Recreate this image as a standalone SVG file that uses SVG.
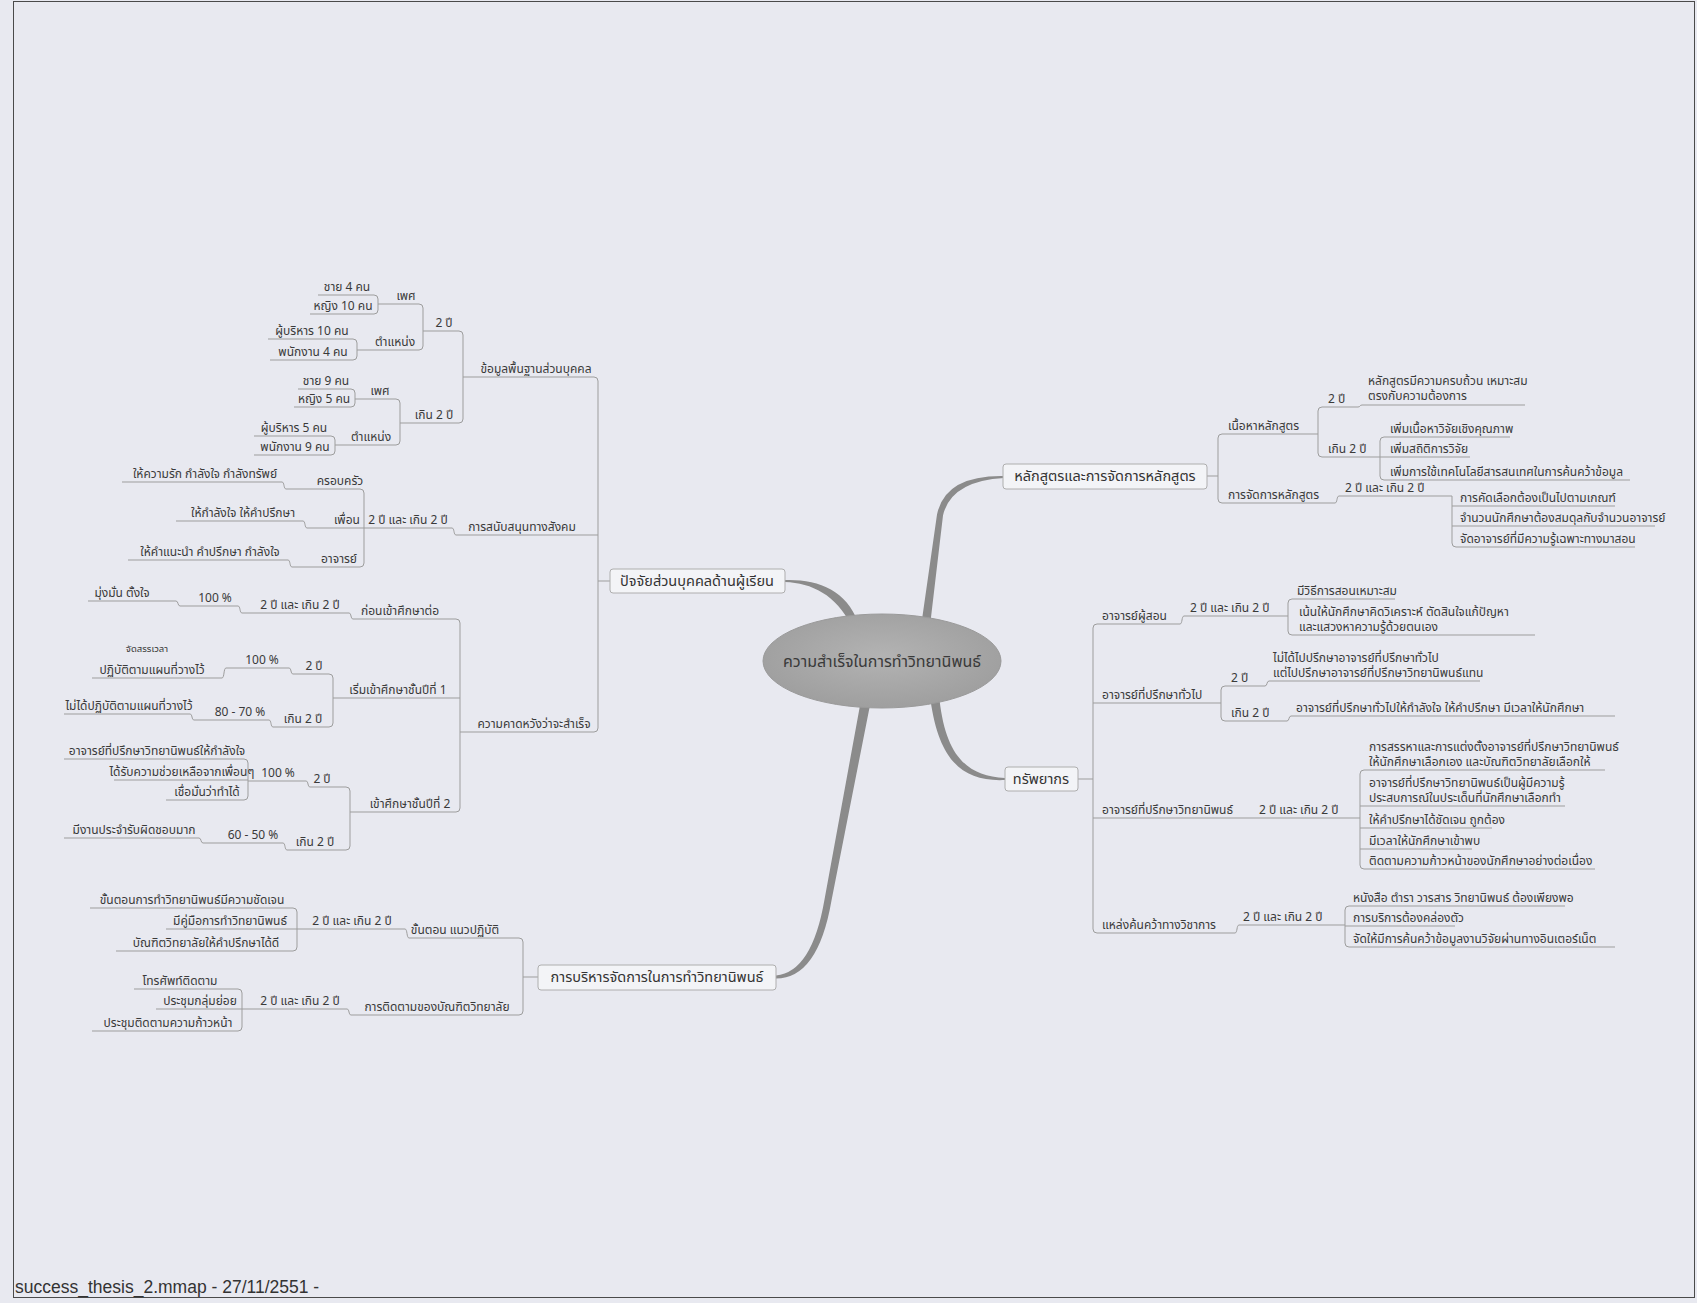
<svg xmlns="http://www.w3.org/2000/svg" width="1697" height="1303" viewBox="0 0 1697 1303">
<style>
.t{font-family:'Noto Sans Thai','Noto Sans Thai UI',Tahoma,Loma,Garuda,'DejaVu Sans','Noto Sans',sans-serif;font-size:12px;fill:#3a3a3a}
.m{text-anchor:middle}
.s{font-size:9.5px}
.mt{font-family:'Noto Sans Thai','Noto Sans Thai UI',Tahoma,Loma,Garuda,'DejaVu Sans','Noto Sans',sans-serif;font-size:14.5px;fill:#333;text-anchor:middle}
.ct{font-family:'Noto Sans Thai','Noto Sans Thai UI',Tahoma,Loma,Garuda,'DejaVu Sans','Noto Sans',sans-serif;font-size:16px;fill:#3a3a3a;text-anchor:middle}
.ul{stroke:#9d9d9d;stroke-width:1;fill:none}
.cn{stroke:#9d9d9d;stroke-width:1;fill:none}
.box{fill:#f3f4f7;stroke:#aeaeae;stroke-width:1}
.br{fill:#8b8b8b;stroke:none}
</style>
<defs>
<radialGradient id="eg" cx="50%" cy="45%" r="60%">
<stop offset="0" stop-color="#b3b3b3"/>
<stop offset="1" stop-color="#9d9d9d"/>
</radialGradient>
</defs>
<rect x="0" y="0" width="1697" height="1303" fill="#e8e9f0"/>
<rect x="13.5" y="1.5" width="1681" height="1296" fill="none" stroke="#4a4a4a" stroke-width="1"/>
<text x="15" y="1293" font-family="'Liberation Sans',Arial,sans-serif" font-size="17.5" fill="#333">success_thesis_2.mmap - 27/11/2551 -</text>

<g id="connectors">
<path class="br" d="M785,580 C818,579 846,590 858,622 L851,625 C836,595 812,583 785,582 Z"/>
<path class="br" d="M920.5,630 L937,514.6 Q945,475 1004,476 L1004,478 Q951,481 943,515.4 L929.5,630 Z"/>
<path class="br" d="M939.5,700 C946,755 966,776 1005,778 L1005,780 C963,782 939,761 930.5,700 Z"/>
<path class="br" d="M871,700 L831.5,900.5 Q818,978.5 776,978.5 L776,975.5 Q812,972 824.5,899.5 L861,700 Z"/>
<path class="cn" d="M374,295 Q378,295 378,299 V310 Q378,314 374,314"/>
<path class="cn" d="M353,339 Q357,339 357,343 V356 Q357,360 353,360"/>
<path class="cn" d="M419,304 Q423,304 423,308 V346 Q423,350 419,350"/>
<path class="cn" d="M351,389 Q355,389 355,393 V403 Q355,407 351,407"/>
<path class="cn" d="M331,436 Q335,436 335,440 V451 Q335,455 331,455"/>
<path class="cn" d="M396,399 Q400,399 400,403 V441 Q400,445 396,445"/>
<path class="cn" d="M459,331 Q463,331 463,335 V419 Q463,423 459,423"/>
<path class="cn" d="M594,377 Q598,377 598,381 V728 Q598,732 594,732 M594,535 H598 M598,581 H610"/>
<path class="cn" d="M282,482 C284.5,482 283.5,489 286,489 M303,521 C305.5,521 304.5,528 307,528 M288,560 C290.5,560 289.5,567 292,567 M452,528 C454.5,528 453.5,535 456,535"/>
<path class="cn" d="M360,489 Q364,489 364,493 V563 Q364,567 360,567 M360,528 H364"/>
<path class="cn" d="M176,601 C178.5,601 177.5,606 180,606 M238,606 C240.5,606 239.5,613 242,613 M349,613 C351.5,613 350.5,619 353,619"/>
<path class="cn" d="M222,678 C224.5,678 223.5,668 226,668 M289,668 C291.5,668 290.5,674 293,674"/>
<path class="cn" d="M190,714 C192.5,714 191.5,720 194,720 M269,720 C271.5,720 270.5,727 273,727"/>
<path class="cn" d="M329,674 Q333,674 333,678 V723 Q333,727 329,727"/>
<path class="cn" d="M244,759 Q248,759 248,763 V796 Q248,800 244,800 M244,780 H248"/>
<path class="cn" d="M306,781 C308.5,781 307.5,787 310,787"/>
<path class="cn" d="M199,838 C201.5,838 200.5,843 203,843 M283,843 C285.5,843 284.5,850 287,850"/>
<path class="cn" d="M346,787 Q350,787 350,791 V846 Q350,850 346,850"/>
<path class="cn" d="M456,619 Q460,619 460,623 V808 Q460,812 456,812 M456,698 H460"/>
<path class="cn" d="M293,908 Q297,908 297,912 V947 Q297,951 293,951 M293,929 H297"/>
<path class="cn" d="M405,929 C407.5,929 406.5,938 409,938"/>
<path class="cn" d="M238,989 Q242,989 242,993 V1027 Q242,1031 238,1031 M238,1009 H242"/>
<path class="cn" d="M347,1009 C349.5,1009 348.5,1015 351,1015"/>
<path class="cn" d="M519,938 Q523,938 523,942 V1011 Q523,1015 519,1015 M523,977 H538"/>
<path class="cn" d="M1207,476 H1218 M1222,434 Q1218,434 1218,438 V499 Q1218,503 1222,503"/>
<path class="cn" d="M1322,407 Q1318,407 1318,411 V453 Q1318,457 1322,457"/>
<path class="cn" d="M1358,407 C1360.5,407 1359.5,405 1362,405"/>
<path class="cn" d="M1384,437 Q1380,437 1380,441 V476 Q1380,480 1384,480 M1380,457 H1384"/>
<path class="cn" d="M1335,503 C1337.5,503 1336.5,496 1339,496"/>
<path class="cn" d="M1452,496 V543 Q1452,547 1456,547 M1452,506 H1456 M1452,526 H1456"/>
<path class="cn" d="M1078,779 H1093 M1097,624 Q1093,624 1093,628 V929 Q1093,933 1097,933 M1093,703 H1097 M1093,818 H1097"/>
<path class="cn" d="M1180,624 C1182.5,624 1181.5,616 1184,616"/>
<path class="cn" d="M1292,599 Q1288,599 1288,603 V631 Q1288,635 1292,635"/>
<path class="cn" d="M1225,686 Q1221,686 1221,690 V717 Q1221,721 1225,721"/>
<path class="cn" d="M1265,686 C1267.5,686 1266.5,681 1269,681 M1287,721 C1289.5,721 1288.5,716 1291,716"/>
<path class="cn" d="M1364,770 Q1360,770 1360,774 V865 Q1360,869 1364,869 M1360,806 H1364 M1360,828 H1364 M1360,849 H1364"/>
<path class="cn" d="M1235,933 C1237.5,933 1236.5,925 1239,925"/>
<path class="cn" d="M1349,906 Q1345,906 1345,910 V943 Q1345,947 1349,947 M1345,926 H1349"/>
</g>

<g id="center">
<ellipse cx="882" cy="661" rx="119" ry="47" fill="url(#eg)" stroke="#9a9a9a"/>
<text class="ct" x="882" y="667">ความสำเร็จในการทำวิทยานิพนธ์</text>
</g>

<g id="topic-a"><rect class="box" x="610" y="569" width="175" height="24" rx="3"/><text class="mt" x="697" y="586">ปัจจัยส่วนบุคคลด้านผู้เรียน</text></g>
<g id="topic-b"><rect class="box" x="1003" y="464" width="204" height="25" rx="3"/><text class="mt" x="1105" y="481">หลักสูตรและการจัดการหลักสูตร</text></g>
<g id="topic-c"><rect class="box" x="1005" y="767" width="73" height="24" rx="3"/><text class="mt" x="1041" y="784">ทรัพยากร</text></g>
<g id="topic-d"><rect class="box" x="538" y="965" width="238" height="25" rx="3"/><text class="mt" x="657" y="982">การบริหารจัดการในการทำวิทยานิพนธ์</text></g>

<g id="n-khomun"><text class="t m" x="536" y="373">ข้อมูลพื้นฐานส่วนบุคคล</text><path class="ul" d="M463,377 H594"/></g>
<g id="n-2pi-a"><text class="t m" x="444" y="327">2 ปี</text><path class="ul" d="M423,331 H459"/></g>
<g id="n-phet1"><text class="t m" x="406" y="300">เพศ</text><path class="ul" d="M378,304 H419"/></g>
<g id="n-chay4"><text class="t m" x="347" y="291">ชาย 4 คน</text><path class="ul" d="M318,295 H374"/></g>
<g id="n-ying10"><text class="t m" x="343" y="310">หญิง 10 คน</text><path class="ul" d="M310,314 H374"/></g>
<g id="n-tam1"><text class="t m" x="395" y="346">ตำแหน่ง</text><path class="ul" d="M357,350 H419"/></g>
<g id="n-bor10"><text class="t m" x="312" y="335">ผู้บริหาร 10 คน</text><path class="ul" d="M268,339 H353"/></g>
<g id="n-pha4"><text class="t m" x="313" y="356">พนักงาน 4 คน</text><path class="ul" d="M270,360 H353"/></g>
<g id="n-koen-a"><text class="t m" x="434" y="419">เกิน 2 ปี</text><path class="ul" d="M400,423 H459"/></g>
<g id="n-phet2"><text class="t m" x="380" y="395">เพศ</text><path class="ul" d="M355,399 H396"/></g>
<g id="n-chay9"><text class="t m" x="326" y="385">ชาย 9 คน</text><path class="ul" d="M298,389 H351"/></g>
<g id="n-ying5"><text class="t m" x="324" y="403">หญิง 5 คน</text><path class="ul" d="M294,407 H351"/></g>
<g id="n-tam2"><text class="t m" x="371" y="441">ตำแหน่ง</text><path class="ul" d="M335,445 H396"/></g>
<g id="n-bor5"><text class="t m" x="294" y="432">ผู้บริหาร 5 คน</text><path class="ul" d="M254,436 H331"/></g>
<g id="n-pha9"><text class="t m" x="295" y="451">พนักงาน 9 คน</text><path class="ul" d="M254,455 H331"/></g>

<g id="n-sanapsanun"><text class="t m" x="522" y="531">การสนับสนุนทางสังคม</text><path class="ul" d="M456,535 H594"/></g>
<g id="n-2pikoen-s"><text class="t m" x="408" y="524">2 ปี และ เกิน 2 ปี</text><path class="ul" d="M364,528 H452"/></g>
<g id="n-krobkrua"><text class="t m" x="340" y="485">ครอบครัว</text><path class="ul" d="M286,489 H360"/></g>
<g id="n-kwamrak"><text class="t m" x="205" y="478">ให้ความรัก กำลังใจ กำลังทรัพย์</text><path class="ul" d="M122,482 H282"/></g>
<g id="n-phuean"><text class="t m" x="347" y="524">เพื่อน</text><path class="ul" d="M307,528 H360"/></g>
<g id="n-kamlangjai"><text class="t m" x="243" y="517">ให้กำลังใจ ให้คำปรึกษา</text><path class="ul" d="M176,521 H303"/></g>
<g id="n-ajarn"><text class="t m" x="339" y="563">อาจารย์</text><path class="ul" d="M292,567 H360"/></g>
<g id="n-kamnaenam"><text class="t m" x="210" y="556">ให้คำแนะนำ คำปรึกษา กำลังใจ</text><path class="ul" d="M128,560 H288"/></g>

<g id="n-kwamkhad"><text class="t m" x="534" y="728">ความคาดหวังว่าจะสำเร็จ</text><path class="ul" d="M460,732 H594"/></g>
<g id="n-korn"><text class="t m" x="400" y="615">ก่อนเข้าศึกษาต่อ</text><path class="ul" d="M353,619 H456"/></g>
<g id="n-2pikoen-a3"><text class="t m" x="300" y="609">2 ปี และ เกิน 2 ปี</text><path class="ul" d="M242,613 H349"/></g>
<g id="n-100a"><text class="t m" x="215" y="602">100 %</text><path class="ul" d="M180,606 H238"/></g>
<g id="n-mungman"><text class="t m" x="122" y="597">มุ่งมั่น ตั้งใจ</text><path class="ul" d="M88,601 H176"/></g>
<g id="n-roem"><text class="t m" x="398" y="694">เริ่มเข้าศึกษาชั้นปีที่ 1</text><path class="ul" d="M333,698 H456"/></g>
<g id="n-2pi-b"><text class="t m" x="314" y="670">2 ปี</text><path class="ul" d="M293,674 H329"/></g>
<g id="n-100b"><text class="t m" x="262" y="664">100 %</text><path class="ul" d="M226,668 H289"/></g>
<g id="n-patibat"><text class="t m"><tspan class="s" x="147" y="652">จัดสรรเวลา</tspan><tspan x="152" y="674">ปฏิบัติตามแผนที่วางไว้</tspan></text><path class="ul" d="M92,678 H222"/></g>
<g id="n-koen-b"><text class="t m" x="303" y="723">เกิน 2 ปี</text><path class="ul" d="M273,727 H329"/></g>
<g id="n-80"><text class="t m" x="240" y="716">80 - 70 %</text><path class="ul" d="M194,720 H269"/></g>
<g id="n-maidai"><text class="t m" x="129" y="710">ไม่ได้ปฏิบัติตามแผนที่วางไว้</text><path class="ul" d="M64,714 H190"/></g>
<g id="n-khao2"><text class="t m" x="410" y="808">เข้าศึกษาชั้นปีที่ 2</text><path class="ul" d="M350,812 H456"/></g>
<g id="n-2pi-c"><text class="t m" x="322" y="783">2 ปี</text><path class="ul" d="M310,787 H346"/></g>
<g id="n-100d"><text class="t m" x="278" y="777">100 %</text><path class="ul" d="M248,781 H306"/></g>
<g id="n-ajarnhai"><text class="t m" x="157" y="755">อาจารย์ที่ปรึกษาวิทยานิพนธ์ให้กำลังใจ</text><path class="ul" d="M64,759 H244"/></g>
<g id="n-dairap"><text class="t m" x="182" y="776">ได้รับความช่วยเหลือจากเพื่อนๆ</text><path class="ul" d="M114,780 H244"/></g>
<g id="n-chueaman"><text class="t m" x="207" y="796">เชื่อมั่นว่าทำได้</text><path class="ul" d="M166,800 H244"/></g>
<g id="n-koen-c"><text class="t m" x="315" y="846">เกิน 2 ปี</text><path class="ul" d="M287,850 H346"/></g>
<g id="n-60"><text class="t m" x="253" y="839">60 - 50 %</text><path class="ul" d="M203,843 H283"/></g>
<g id="n-miwork"><text class="t m" x="134" y="834">มีงานประจำรับผิดชอบมาก</text><path class="ul" d="M64,838 H199"/></g>

<g id="n-khantorn"><text class="t m" x="455" y="934">ขั้นตอน แนวปฏิบัติ</text><path class="ul" d="M409,938 H519"/></g>
<g id="n-2pikoen-d1"><text class="t m" x="352" y="925">2 ปี และ เกิน 2 ปี</text><path class="ul" d="M297,929 H405"/></g>
<g id="n-chadjen"><text class="t m" x="192" y="904">ขั้นตอนการทำวิทยานิพนธ์มีความชัดเจน</text><path class="ul" d="M90,908 H293"/></g>
<g id="n-khumue"><text class="t m" x="230" y="925">มีคู่มือการทำวิทยานิพนธ์</text><path class="ul" d="M166,929 H293"/></g>
<g id="n-banditdee"><text class="t m" x="206" y="947">บัณฑิตวิทยาลัยให้คำปรึกษาได้ดี</text><path class="ul" d="M116,951 H293"/></g>
<g id="n-tidtam"><text class="t m" x="437" y="1011">การติดตามของบัณฑิตวิทยาลัย</text><path class="ul" d="M351,1015 H519"/></g>
<g id="n-2pikoen-d2"><text class="t m" x="300" y="1005">2 ปี และ เกิน 2 ปี</text><path class="ul" d="M242,1009 H347"/></g>
<g id="n-tho"><text class="t m" x="180" y="985">โทรศัพท์ติดตาม</text><path class="ul" d="M134,989 H238"/></g>
<g id="n-klum"><text class="t m" x="200" y="1005">ประชุมกลุ่มย่อย</text><path class="ul" d="M156,1009 H238"/></g>
<g id="n-kaona"><text class="t m" x="168" y="1027">ประชุมติดตามความก้าวหน้า</text><path class="ul" d="M92,1031 H238"/></g>

<g id="n-nueha"><text class="t" x="1228" y="430">เนื้อหาหลักสูตร</text><path class="ul" d="M1222,434 H1318"/></g>
<g id="n-2pi-B"><text class="t" x="1328" y="403">2 ปี</text><path class="ul" d="M1322,407 H1358"/></g>
<g id="n-krob"><text class="t"><tspan x="1368" y="385">หลักสูตรมีความครบถ้วน เหมาะสม</tspan><tspan x="1368" y="400">ตรงกับความต้องการ</tspan></text><path class="ul" d="M1362,405 H1525"/></g>
<g id="n-koen-B"><text class="t" x="1328" y="453">เกิน 2 ปี</text><path class="ul" d="M1322,457 H1380"/></g>
<g id="n-perm1"><text class="t" x="1390" y="433">เพิ่มเนื้อหาวิจัยเชิงคุณภาพ</text><path class="ul" d="M1384,437 H1510"/></g>
<g id="n-perm2"><text class="t" x="1390" y="453">เพิ่มสถิติการวิจัย</text><path class="ul" d="M1384,457 H1470"/></g>
<g id="n-perm3"><text class="t" x="1390" y="476">เพิ่มการใช้เทคโนโลยีสารสนเทศในการค้นคว้าข้อมูล</text><path class="ul" d="M1384,480 H1630"/></g>
<g id="n-jadkan"><text class="t" x="1228" y="499">การจัดการหลักสูตร</text><path class="ul" d="M1222,503 H1335"/></g>
<g id="n-2pikoen-B"><text class="t" x="1345" y="492">2 ปี และ เกิน 2 ปี</text><path class="ul" d="M1339,496 H1452"/></g>
<g id="n-khadlueak"><text class="t" x="1460" y="502">การคัดเลือกต้องเป็นไปตามเกณฑ์</text><path class="ul" d="M1456,506 H1615"/></g>
<g id="n-jamnuan"><text class="t" x="1460" y="522">จำนวนนักศึกษาต้องสมดุลกับจำนวนอาจารย์</text><path class="ul" d="M1456,526 H1655"/></g>
<g id="n-jadajarn"><text class="t" x="1460" y="543">จัดอาจารย์ที่มีความรู้เฉพาะทางมาสอน</text><path class="ul" d="M1456,547 H1635"/></g>

<g id="n-sorn"><text class="t" x="1102" y="620">อาจารย์ผู้สอน</text><path class="ul" d="M1097,624 H1180"/></g>
<g id="n-2pikoen-C1"><text class="t" x="1190" y="612">2 ปี และ เกิน 2 ปี</text><path class="ul" d="M1184,616 H1288"/></g>
<g id="n-miwithi"><text class="t" x="1297" y="595">มีวิธีการสอนเหมาะสม</text><path class="ul" d="M1292,599 H1395"/></g>
<g id="n-nen"><text class="t"><tspan x="1299" y="616">เน้นให้นักศึกษาคิดวิเคราะห์ ตัดสินใจแก้ปัญหา</tspan><tspan x="1299" y="631">และแสวงหาความรู้ด้วยตนเอง</tspan></text><path class="ul" d="M1292,635 H1535"/></g>
<g id="n-tuapai"><text class="t" x="1102" y="699">อาจารย์ที่ปรึกษาทั่วไป</text><path class="ul" d="M1097,703 H1221"/></g>
<g id="n-2pi-C"><text class="t" x="1231" y="682">2 ปี</text><path class="ul" d="M1225,686 H1265"/></g>
<g id="n-maidaipai"><text class="t"><tspan x="1273" y="662">ไม่ได้ไปปรึกษาอาจารย์ที่ปรึกษาทั่วไป</tspan><tspan x="1273" y="677">แต่ไปปรึกษาอาจารย์ที่ปรึกษาวิทยานิพนธ์แทน</tspan></text><path class="ul" d="M1269,681 H1480"/></g>
<g id="n-koen-C"><text class="t" x="1231" y="717">เกิน 2 ปี</text><path class="ul" d="M1225,721 H1287"/></g>
<g id="n-tuapaihai"><text class="t" x="1296" y="712">อาจารย์ที่ปรึกษาทั่วไปให้กำลังใจ ให้คำปรึกษา มีเวลาให้นักศึกษา</text><path class="ul" d="M1291,716 H1615"/></g>
<g id="n-thesisadv"><text class="t" x="1102" y="814">อาจารย์ที่ปรึกษาวิทยานิพนธ์</text><path class="ul" d="M1097,818 H1245"/></g>
<g id="n-2pikoen-C3"><text class="t" x="1259" y="814">2 ปี และ เกิน 2 ปี</text><path class="ul" d="M1245,818 H1360"/></g>
<g id="n-sanha"><text class="t"><tspan x="1369" y="751">การสรรหาและการแต่งตั้งอาจารย์ที่ปรึกษาวิทยานิพนธ์</tspan><tspan x="1369" y="766">ให้นักศึกษาเลือกเอง และบัณฑิตวิทยาลัยเลือกให้</tspan></text><path class="ul" d="M1364,770 H1605"/></g>
<g id="n-phumi"><text class="t"><tspan x="1369" y="787">อาจารย์ที่ปรึกษาวิทยานิพนธ์เป็นผู้มีความรู้</tspan><tspan x="1369" y="802">ประสบการณ์ในประเด็นที่นักศึกษาเลือกทำ</tspan></text><path class="ul" d="M1364,806 H1565"/></g>
<g id="n-chadjen2"><text class="t" x="1369" y="824">ให้คำปรึกษาได้ชัดเจน ถูกต้อง</text><path class="ul" d="M1364,828 H1492"/></g>
<g id="n-miwela"><text class="t" x="1369" y="845">มีเวลาให้นักศึกษาเข้าพบ</text><path class="ul" d="M1364,849 H1472"/></g>
<g id="n-tidtamkao"><text class="t" x="1369" y="865">ติดตามความก้าวหน้าของนักศึกษาอย่างต่อเนื่อง</text><path class="ul" d="M1364,869 H1595"/></g>
<g id="n-laeng"><text class="t" x="1102" y="929">แหล่งค้นคว้าทางวิชาการ</text><path class="ul" d="M1097,933 H1235"/></g>
<g id="n-2pikoen-C4"><text class="t" x="1243" y="921">2 ปี และ เกิน 2 ปี</text><path class="ul" d="M1239,925 H1345"/></g>
<g id="n-nangsue"><text class="t" x="1353" y="902">หนังสือ ตำรา วารสาร วิทยานิพนธ์ ต้องเพียงพอ</text><path class="ul" d="M1349,906 H1565"/></g>
<g id="n-borikan"><text class="t" x="1353" y="922">การบริการต้องคล่องตัว</text><path class="ul" d="M1349,926 H1455"/></g>
<g id="n-jadhai"><text class="t" x="1353" y="943">จัดให้มีการค้นคว้าข้อมูลงานวิจัยผ่านทางอินเตอร์เน็ต</text><path class="ul" d="M1349,947 H1615"/></g>
</svg>
